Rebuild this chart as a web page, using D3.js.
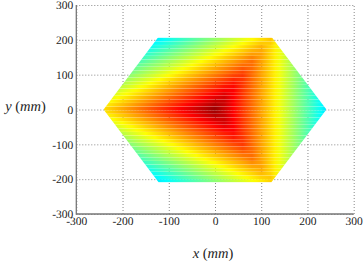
<!DOCTYPE html>
<html>
<body style="margin:0;padding:0;background:#fff">
<script src="https://cdn.jsdelivr.net/npm/d3@7"></script>
<svg id="chart" width="363" height="262" style="display:block;text-rendering:geometricPrecision"></svg>
<script>
// Tick positions of both axes, in millimetres.
const xTicks = [-300, -200, -100, 0, 100, 200, 300];
const yTicks = [-300, -200, -100, 0, 100, 200, 300];

// Outline of the hexagonal aperture, in millimetres.
const outlineX = [-241, -122, 122, 241, 122, -122];
const outlineY = [0, 209, 209, 0, -209, -209];

// Sample positions of the measured field.
const gridX = [-240, -220, -200, -180, -160, -140, -120, -100, -80, -60, -40, -20, 0,
               20, 40, 60, 80, 100, 120, 140, 160, 180, 200, 220, 240];
const gridY = [220, 200, 180, 160, 140, 120, 100, 80, 60, 40, 20, 0,
               -20, -40, -60, -80, -100, -120, -140, -160, -180, -200, -220];

// Field level at each sample, one row per entry of gridY.
const fieldRows = [
  [0, 0, 0, 0, 0, 0, 0, 0, 9, 19, 29, 39, 49, 59, 69, 79, 89, 99, 109, 100, 80, 60, 40, 20, 0],
  [0, 0, 0, 0, 0, 0, 7, 17, 27, 37, 47, 57, 67, 77, 87, 97, 107, 117, 127, 100, 80, 60, 40, 20, 0],
  [0, 0, 0, 0, 4, 14, 24, 34, 44, 54, 64, 74, 84, 94, 104, 114, 124, 134, 120, 100, 80, 60, 40, 20, 0],
  [0, 0, 1, 11, 21, 31, 41, 51, 61, 71, 81, 91, 101, 111, 121, 131, 141, 140, 120, 100, 80, 60, 40, 20, 0],
  [0, 9, 19, 29, 39, 49, 59, 69, 79, 89, 99, 109, 119, 129, 139, 149, 159, 140, 120, 100, 80, 60, 40, 20, 0],
  [16, 26, 36, 46, 56, 66, 76, 86, 96, 106, 116, 126, 136, 146, 156, 166, 160, 140, 120, 100, 80, 60, 40, 20, 0],
  [33, 43, 53, 63, 73, 83, 93, 103, 113, 123, 133, 143, 153, 163, 173, 180, 160, 140, 120, 100, 80, 60, 40, 20, 0],
  [51, 61, 71, 81, 91, 101, 111, 121, 131, 141, 151, 161, 171, 181, 191, 180, 160, 140, 120, 100, 80, 60, 40, 20, 0],
  [68, 78, 88, 98, 108, 118, 128, 138, 148, 158, 168, 178, 188, 198, 200, 180, 160, 140, 120, 100, 80, 60, 40, 20, 0],
  [85, 95, 105, 115, 125, 135, 145, 155, 165, 175, 185, 195, 205, 215, 200, 180, 160, 140, 120, 100, 80, 60, 40, 20, 0],
  [103, 113, 123, 133, 143, 153, 163, 173, 183, 193, 203, 213, 223, 220, 200, 180, 160, 140, 120, 100, 80, 60, 40, 20, 0],
  [120, 130, 140, 150, 160, 170, 180, 190, 200, 210, 220, 230, 240, 220, 200, 180, 160, 140, 120, 100, 80, 60, 40, 20, 0],
  [103, 113, 123, 133, 143, 153, 163, 173, 183, 193, 203, 213, 223, 220, 200, 180, 160, 140, 120, 100, 80, 60, 40, 20, 0],
  [85, 95, 105, 115, 125, 135, 145, 155, 165, 175, 185, 195, 205, 215, 200, 180, 160, 140, 120, 100, 80, 60, 40, 20, 0],
  [68, 78, 88, 98, 108, 118, 128, 138, 148, 158, 168, 178, 188, 198, 200, 180, 160, 140, 120, 100, 80, 60, 40, 20, 0],
  [51, 61, 71, 81, 91, 101, 111, 121, 131, 141, 151, 161, 171, 181, 191, 180, 160, 140, 120, 100, 80, 60, 40, 20, 0],
  [33, 43, 53, 63, 73, 83, 93, 103, 113, 123, 133, 143, 153, 163, 173, 180, 160, 140, 120, 100, 80, 60, 40, 20, 0],
  [16, 26, 36, 46, 56, 66, 76, 86, 96, 106, 116, 126, 136, 146, 156, 166, 160, 140, 120, 100, 80, 60, 40, 20, 0],
  [0, 9, 19, 29, 39, 49, 59, 69, 79, 89, 99, 109, 119, 129, 139, 149, 159, 140, 120, 100, 80, 60, 40, 20, 0],
  [0, 0, 1, 11, 21, 31, 41, 51, 61, 71, 81, 91, 101, 111, 121, 131, 141, 140, 120, 100, 80, 60, 40, 20, 0],
  [0, 0, 0, 0, 4, 14, 24, 34, 44, 54, 64, 74, 84, 94, 104, 114, 124, 134, 120, 100, 80, 60, 40, 20, 0],
  [0, 0, 0, 0, 0, 0, 7, 17, 27, 37, 47, 57, 67, 77, 87, 97, 107, 117, 127, 100, 80, 60, 40, 20, 0],
  [0, 0, 0, 0, 0, 0, 0, 0, 9, 19, 29, 39, 49, 59, 69, 79, 89, 99, 109, 100, 80, 60, 40, 20, 0]
];

// Jet-style colour ramp, from the cyan rim to the dark red core.
const levelStops = [0, 10, 105, 200, 240];
const levelColours = ["#00e3ff", "#00ffff", "#ffff00", "#ff0000", "#940000"];

const svg = d3.select("#chart");
const xScale = d3.scaleLinear().domain([-300, 300]).range([76.3, 353.7]);
const yScale = d3.scaleLinear().domain([-300, 300]).range([214, 5]);
const colour = d3.scaleLinear().domain(levelStops).range(levelColours);

// Dotted grid plus tick labels, built with the d3 axes.
const gridStyle = g => {
  g.attr("font-family", "Liberation Serif").attr("font-size", 11.5);
  g.select(".domain").remove();
  g.selectAll(".tick line")
    .attr("stroke", "#888").attr("stroke-width", 1).attr("stroke-dasharray", "1,2");
  g.selectAll(".tick text")
    .style("font-family", '"Liberation Serif"').style("font-size", "11.5px").style("fill", "#222");
};
svg.append("g").attr("transform", "translate(0,214)")
  .call(d3.axisBottom(xScale).tickValues(xTicks).tickFormat(String).tickSize(-209).tickPadding(3))
  .call(gridStyle);
svg.append("g").attr("transform", "translate(76.3,0)")
  .call(d3.axisLeft(yScale).tickValues(yTicks).tickFormat(String).tickSize(-277.4).tickPadding(3))
  .call(gridStyle);

// Hexagonal clip for the field.
const outline = outlineX.map((v, i) => [xScale(v), yScale(outlineY[i])]);
const defs = svg.append("defs");
defs.append("clipPath").attr("id", "aperture")
  .append("path").attr("d", d3.line().curve(d3.curveLinearClosed)(outline));

// Each horizontal scan of the field is one bar filled with its own gradient.
const scanStep = 10.4;
const scans = d3.range(-205, 207, scanStep);
const levelAcross = yv => gridX.map((_, c) =>
  d3.scaleLinear().domain(gridY).range(fieldRows.map(r => r[c]))(yv));

scans.forEach((yv, i) => {
  const levels = levelAcross(yv);
  const grad = defs.append("linearGradient").attr("id", "scan" + i)
    .attr("gradientUnits", "userSpaceOnUse")
    .attr("x1", xScale(gridX[0])).attr("x2", xScale(gridX[gridX.length - 1]))
    .attr("y1", 0).attr("y2", 0);
  const acrossX = d3.scaleLinear().domain(gridX).range(levels);
  d3.range(gridX[0], gridX[gridX.length - 1] + 1, 10).forEach(xv => {
    grad.append("stop")
      .attr("offset", (xv - gridX[0]) / (gridX[gridX.length - 1] - gridX[0]))
      .attr("stop-color", colour(acrossX(xv)));
  });
});

svg.append("g").attr("clip-path", "url(#aperture)")
  .selectAll("rect").data(scans).join("rect")
  .attr("x", xScale(gridX[0]))
  .attr("width", xScale(gridX[gridX.length - 1]) - xScale(gridX[0]))
  .attr("y", d => yScale(d) - 1.8)
  .attr("height", 3.5)
  .attr("fill", (d, i) => `url(#scan${i})`);

// Left and bottom axis rails.
svg.append("path")
  .attr("d", d3.line()([[xScale(-300), yScale(300)], [xScale(-300), yScale(-300)], [xScale(300), yScale(-300)]]))
  .attr("fill", "none").attr("stroke", "#777").attr("stroke-width", 1.3);

// Axis titles with italic symbols and upright brackets.
const drawTitle = (tx, ty, symbol) => {
  const t = svg.append("text").attr("x", tx).attr("y", ty)
    .style("font-family", '"Liberation Serif"').style("font-size", "14.5px").style("fill", "#222")
    .attr("text-anchor", "middle");
  t.append("tspan").style("font-style", "italic").text(symbol);
  t.append("tspan").text(" (");
  t.append("tspan").style("font-style", "italic").text("mm");
  t.append("tspan").text(")");
};
drawTitle(213, 258, "x");
drawTitle(25.5, 111, "y");
</script>
</body>
</html>
